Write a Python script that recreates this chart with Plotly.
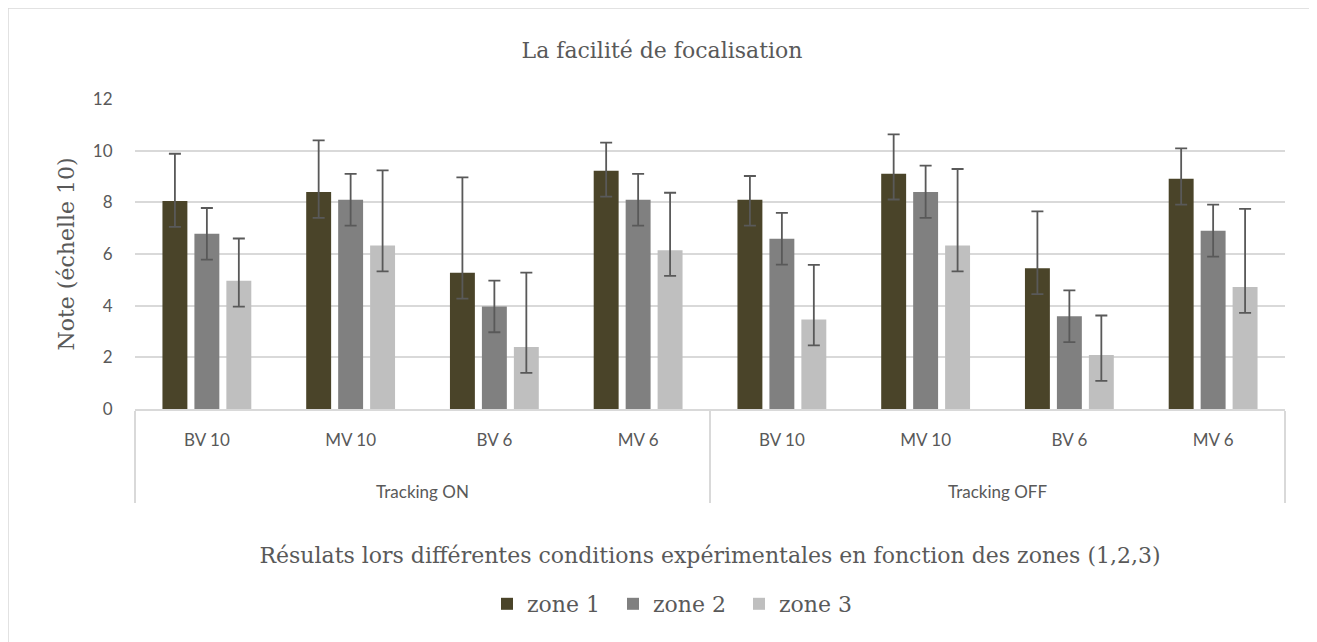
import plotly.graph_objects as go

# ---- data ----
outer_labels = ["Tracking ON"] * 4 + ["Tracking OFF"] * 4
inner_labels = ["BV 10", "MV 10", "BV 6", "MV 6"] * 2

zone1 = [8.05, 8.40, 5.27, 9.22, 8.10, 9.11, 5.45, 8.91]
zone2 = [6.78, 8.10, 3.97, 8.10, 6.59, 8.40, 3.59, 6.90]
zone3 = [4.96, 6.33, 2.40, 6.15, 3.46, 6.33, 2.09, 4.72]

err_plus1 = [1.83, 2.00, 3.70, 1.09, 0.92, 1.52, 2.20, 1.18]
err_plus2 = [1.00, 1.00, 1.00, 1.00, 1.00, 1.02, 1.00, 1.01]
err_plus3 = [1.64, 2.91, 2.88, 2.22, 2.12, 2.96, 1.53, 3.03]
err_minus1 = [1.0] * 8
err_minus2 = [1.0] * 8
err_minus3 = [1.0] * 8

series_names = ["zone 1", "zone 2", "zone 3"]
colors = ["#4A4429", "#808080", "#BFBFBF"]

# figure sits at page offset (8, 8) because of the default body margin
W, H = 1317, 642
OFF = 8
L, T = 135 - OFF, 99 - OFF
R = W - (1285 - OFF)
B = H - (409 - OFF)
pw, ph = W - L - R, H - T - B

serif = "DejaVu Serif, Liberation Serif, serif"
sans = "Lato, Open Sans, sans-serif"
txt = "#595959"
grid = "#D9D9D9"

fig = go.Figure()
for name, vals, ep, em, col in zip(series_names, [zone1, zone2, zone3],
                                    [err_plus1, err_plus2, err_plus3],
                                    [err_minus1, err_minus2, err_minus3], colors):
    fig.add_trace(go.Bar(
        name=name,
        x=[["<br><br>" + s for s in outer_labels], inner_labels],
        y=vals,
        marker=dict(color=col, line=dict(width=0)),
        error_y=dict(type="data", symmetric=False, array=ep, arrayminus=em,
                     color="#595959", thickness=1.8, width=6),
    ))

fig.update_layout(
    width=W, height=H,
    margin=dict(l=L, r=R, t=T, b=B, autoexpand=False),
    paper_bgcolor="white", plot_bgcolor="white",
    barmode="group", bargap=0.333, bargroupgap=0.22,
    title=dict(text="La facilité de focalisation", x=(662 - OFF) / W, xref="container",
               y=1 - (50 - OFF) / H, yref="container", xanchor="center", yanchor="middle",
               font=dict(family=serif, size=22, color=txt)),
    showlegend=True,
    legend=dict(orientation="h", x=(676 - 135) / pw, xanchor="center", xref="paper",
                y=(409 - 604) / ph, yanchor="middle",
                font=dict(family=serif, size=22, color=txt),
                itemwidth=30, entrywidth=81, entrywidthmode="pixels",
                traceorder="normal"),
    xaxis=dict(
        type="multicategory",
        showline=True, linecolor=grid, linewidth=1.5,
        showdividers=True, dividercolor=grid, dividerwidth=1.5,
        showgrid=False, zeroline=False,
        ticks="", ticklabelstandoff=15,
        tickfont=dict(family=sans, size=17, color=txt),
        title=dict(text="Résulats lors différentes conditions expérimentales en fonction des zones (1,2,3)",
                   font=dict(family=serif, size=22, color=txt), standoff=46),
    ),
    yaxis=dict(
        range=[0, 12], dtick=2, tick0=0,
        showgrid=True, gridcolor=grid, gridwidth=1.5,
        zeroline=False, showline=False,
        ticks="outside", ticklen=18, tickcolor="rgba(0,0,0,0)",
        tickfont=dict(family=sans, size=17, color=txt),
        title=dict(text="Note (échelle 10)", font=dict(family=serif, size=22, color=txt),
                   standoff=12),
    ),
)

# outer chart border
fig.add_shape(type="rect", xref="paper", yref="paper",
              x0=(8 - 135) / pw, x1=(1313 - 135) / pw,
              y0=(409 - 660) / ph, y1=(409 - 8) / ph,
              line=dict(color=grid, width=1.5), fillcolor="rgba(0,0,0,0)", layer="below")

fig.write_html("out.html")
